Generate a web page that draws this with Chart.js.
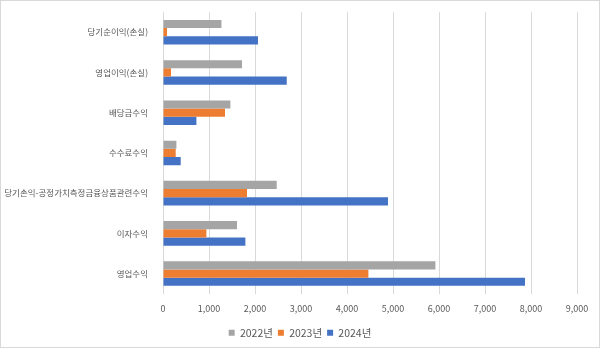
<!DOCTYPE html>
<html>
<head>
<meta charset="utf-8">
<script src="https://cdn.jsdelivr.net/npm/chart.js@4"></script>
<style>
  html, body { margin: 0; padding: 0; background: #fff; }
  #wrap { width: 600px; height: 348px; position: relative; }
</style>
</head>
<body>
<div id="wrap"><canvas id="barChart" width="600" height="348"></canvas></div>
<script>
// 항목
const categories = ['당기순이익(손실)', '영업이익(손실)', '배당금수익', '수수료수익', '당기손익-공정가치측정금융상품관련수익', '이자수익', '영업수익'];
// 연도별 값
const seriesNames = ['2022년', '2023년', '2024년'];
const values2022 = [1270, 1718, 1465, 291, 2472, 1609, 5922];
const values2023 = [87, 174, 1348, 276, 1826, 943, 4465];
const values2024 = [2065, 2690, 726, 385, 4891, 1791, 7870];
const colors = ['#A5A5A5', '#ED7D31', '#4472C4'];

const textColor = '#595959';
const fontFamily = '"Noto Sans CJK KR", "Noto Sans", sans-serif';

// 바깥 테두리 + 범례를 캔버스 가운데로
const frame = {
  id: 'frame',
  afterLayout(chart) {
    const l = chart.legend;
    if (!l) return;
    l.left = 0;
    l.right = chart.width;
    l.width = chart.width;
    l.adjustHitBoxes();
  },
  afterDraw(chart) {
    const ctx = chart.ctx;
    ctx.save();
    ctx.strokeStyle = '#d9d9d9';
    ctx.lineWidth = 1;
    ctx.strokeRect(0.5, 0.5, chart.width - 1, chart.height - 1);
    ctx.restore();
  }
};

const ctx = document.getElementById('barChart').getContext('2d');
const barChart = new Chart(ctx, {
  type: 'bar',
  data: {
    labels: categories,
    datasets: [values2022, values2023, values2024].map((d, i) => ({
      label: seriesNames[i],
      data: d,
      backgroundColor: colors[i],
      borderWidth: 0,
      barPercentage: 1,
      categoryPercentage: 0.61
    }))
  },
  options: {
    indexAxis: 'y',
    responsive: false,
    animation: false,
    layout: { padding: { top: 10, right: 23, left: 0, bottom: 0 } },
    plugins: {
      legend: {
        position: 'bottom',
        labels: {
          boxWidth: 6,
          boxHeight: 6,
          padding: 5,
          color: textColor,
          font: { family: fontFamily, size: 10.5 }
        }
      },
      tooltip: { enabled: false }
    },
    scales: {
      x: {
        min: 0,
        max: 9000,
        ticks: {
          stepSize: 1000,
          color: textColor,
          font: { family: fontFamily, size: 9 },
          padding: 9,
          callback: v => v.toLocaleString('en-US')
        },
        grid: { color: '#d9d9d9', drawTicks: false },
        border: { display: false }
      },
      y: {
        ticks: {
          color: textColor,
          font: { family: fontFamily, size: 8.5 },
          padding: 7
        },
        grid: { display: false },
        border: { display: false },
        afterFit(scale) { scale.width = 163; }
      }
    }
  },
  plugins: [frame]
});
</script>
</body>
</html>
